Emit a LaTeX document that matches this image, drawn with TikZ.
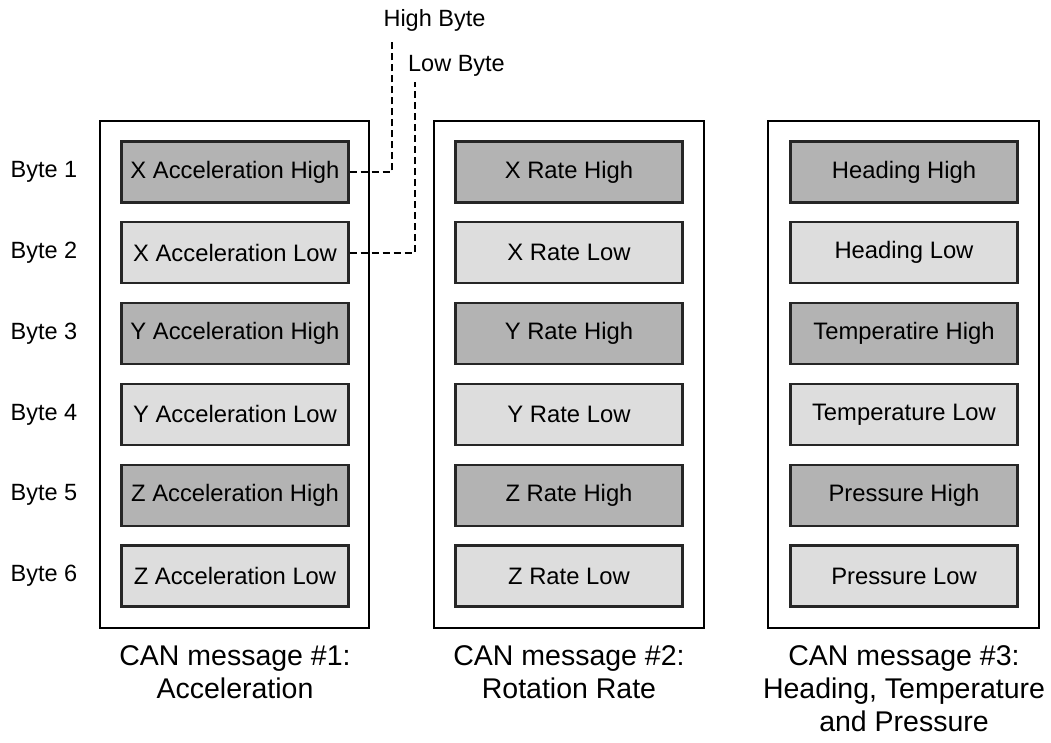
\documentclass[tikz,border=0pt]{standalone}
\usepackage{fontspec}
\setmainfont{Liberation Sans}
\definecolor{hifill}{RGB}{179,179,179}
\definecolor{lofill}{RGB}{221,221,221}
\tikzset{
  frame/.style={draw=black, line width=2.2pt, fill=white},
  hibox/.style={draw=black!85, line width=2.2pt, fill=hifill, minimum width=227pt, minimum height=61pt, inner sep=0pt, font=\fontsize{23.8}{28}\selectfont},
  lobox/.style={hibox, fill=lofill},
  bytelbl/.style={font=\fontsize{23.5}{28}\selectfont, inner sep=0pt},
  caption/.style={font=\fontsize{28.5}{33}\selectfont, align=center, anchor=north, inner sep=0pt},
  tagline/.style={draw=black, line width=2.2pt, dash pattern=on 7pt off 4pt}
}
\begin{document}
\begin{tikzpicture}[x=1pt,y=-1pt]
\useasboundingbox (0,0) rectangle (1051,742);
% message frames
\draw[frame] (100,121) rectangle (369,628);
\draw[frame] (434,121) rectangle (704,628);
\draw[frame] (768,121) rectangle (1039,628);
% byte labels
\foreach \i/\y in {1/172,2/252.8,3/333.6,4/414.4,5/495.2,6/576}
  \node[bytelbl] (b\i) at (44,\y) {Byte \i};
% message 1
\node[hibox] (a1) at (235,172) {X Acceleration High};
\node[lobox] (a2) at (235,252.8) {X Acceleration Low};
\node[hibox] (a3) at (235,333.6) {Y Acceleration High};
\node[lobox] (a4) at (235,414.4) {Y Acceleration Low};
\node[hibox] (a5) at (235,495.2) {Z Acceleration High};
\node[lobox] (a6) at (235,576) {Z Acceleration Low};
% message 2
\node[hibox] (r1) at (569,172) {X Rate High};
\node[lobox] (r2) at (569,252.8) {X Rate Low};
\node[hibox] (r3) at (569,333.6) {Y Rate High};
\node[lobox] (r4) at (569,414.4) {Y Rate Low};
\node[hibox] (r5) at (569,495.2) {Z Rate High};
\node[lobox] (r6) at (569,576) {Z Rate Low};
% message 3
\node[hibox] (h1) at (904,172) {Heading High};
\node[lobox] (h2) at (904,252.8) {Heading Low};
\node[hibox] (h3) at (904,333.6) {Temperatire High};
\node[lobox] (h4) at (904,414.4) {Temperature Low};
\node[hibox] (h5) at (904,495.2) {Pressure High};
\node[lobox] (h6) at (904,576) {Pressure Low};
% captions
\node[caption] (c1) at (235,645) {CAN message \#1:\\Acceleration};
\node[caption] (c2) at (569,645) {CAN message \#2:\\Rotation Rate};
\node[caption] (c3) at (904,645) {CAN message \#3:\\Heading, Temperature\\and Pressure};
% high / low byte tags
\node[bytelbl] (hb) at (434.5,20) {High Byte};
\node[bytelbl] (lb) at (456.5,66) {Low Byte};
\coordinate (hbend) at (392,40);
\coordinate (lbend) at (415,82);
\draw[tagline] (a1.east) -| (hbend);
\draw[tagline] (a2.east) -| (lbend);
\end{tikzpicture}
\end{document}
